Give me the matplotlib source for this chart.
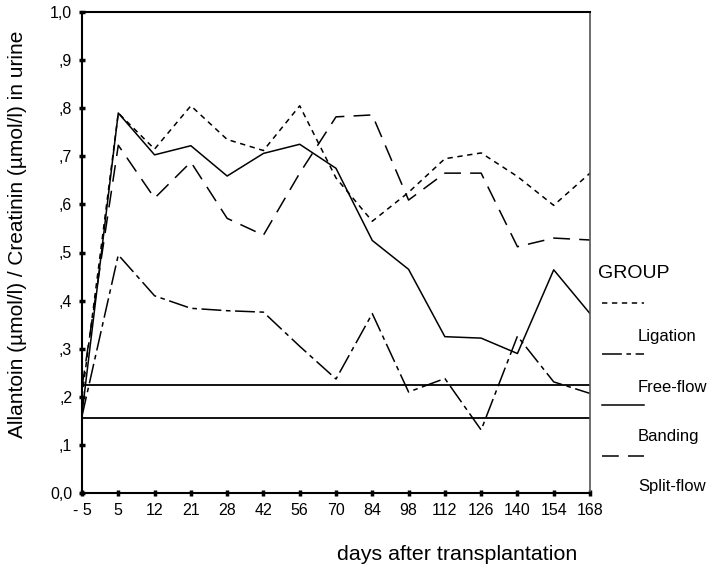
import matplotlib
matplotlib.use("Agg")
import matplotlib.pyplot as plt
from matplotlib.lines import Line2D

plt.rcParams["font.family"] = ["Liberation Sans", "DejaVu Sans"]

# days after transplantation (categorical axis)
days = ["- 5", "5", "12", "21", "28", "42", "56", "70", "84", "98",
        "112", "126", "140", "154", "168"]

# ratio allantoin / creatinin per group
ligation = [0.20, 0.79, 0.715, 0.805, 0.735, 0.712, 0.805, 0.655, 0.565,
            0.625, 0.695, 0.707, 0.658, 0.598, 0.665]
free_flow = [0.16, 0.495, 0.41, 0.384, 0.379, 0.376, 0.305, 0.237, 0.373,
             0.21, 0.238, 0.131, 0.326, 0.231, 0.207]
banding = [0.165, 0.79, 0.703, 0.722, 0.659, 0.706, 0.725, 0.675, 0.525,
           0.465, 0.325, 0.322, 0.29, 0.464, 0.373]
split_flow = [0.22, 0.723, 0.613, 0.688, 0.571, 0.536, 0.665, 0.782, 0.786,
              0.609, 0.665, 0.665, 0.512, 0.53, 0.526]

# horizontal reference lines
ref_levels = [0.225, 0.155]

groups = ["Ligation", "Free-flow", "Banding", "Split-flow"]
series = [ligation, free_flow, banding, split_flow]
dash_styles = [(0, (3.5, 3)), (0, (13, 3, 3, 3)), "-", (0, (11, 6))]

yticks = [0.0, 0.1, 0.2, 0.3, 0.4, 0.5, 0.6, 0.7, 0.8, 0.9, 1.0]
ytick_labels = ["0,0", ",1", ",2", ",3", ",4", ",5", ",6", ",7", ",8", ",9", "1,0"]

fig = plt.figure(figsize=(7.12, 5.79), dpi=100)
ax = fig.add_axes([82 / 712, 1 - 493 / 579, 508 / 712, 481 / 579])

x = list(range(len(days)))
for vals, ls in zip(series, dash_styles):
    ax.plot(x, vals, color="black", lw=1.1, linestyle=ls)
for lvl in ref_levels:
    ax.axhline(lvl, color="black", lw=1.3)

ax.set_xlim(0, len(days) - 1)
ax.set_ylim(0, 1.0)
ax.set_xticks(x)
ax.set_xticklabels(days)
ax.set_yticks(yticks)
ax.set_yticklabels(ytick_labels)
ax.tick_params(axis="both", direction="inout", length=4, width=2.5,
               labelsize=11.5, pad=5)
for side in ["left", "bottom", "top"]:
    ax.spines[side].set_linewidth(1.5)
ax.spines["right"].set_linewidth(1.2)
ax.spines["right"].set_color("#555555")

fig.text(18 / 712, 1 - 234 / 579, "Allantoin (µmol/l) / Creatinin (µmol/l) in urine",
         rotation=90, ha="center", va="center", fontsize=15)
fig.text(457 / 712, 1 - 555 / 579, "days after transplantation",
         ha="center", va="center", fontsize=15.4)

# legend: sample line above each label
fig.text(598 / 712, 1 - 274 / 579, "GROUP", ha="left", va="center", fontsize=14)
for i, (name, ls) in enumerate(zip(groups, dash_styles)):
    y_line = 1 - (303 + i * 51) / 579
    y_text = 1 - (337 + i * 50) / 579
    fig.add_artist(Line2D([602 / 712, 644 / 712], [y_line, y_line],
                          color="black", lw=1.1, linestyle=ls))
    fig.text(638 / 712, y_text, name, ha="left", va="center", fontsize=12)

fig.savefig("out.png", dpi=100)
